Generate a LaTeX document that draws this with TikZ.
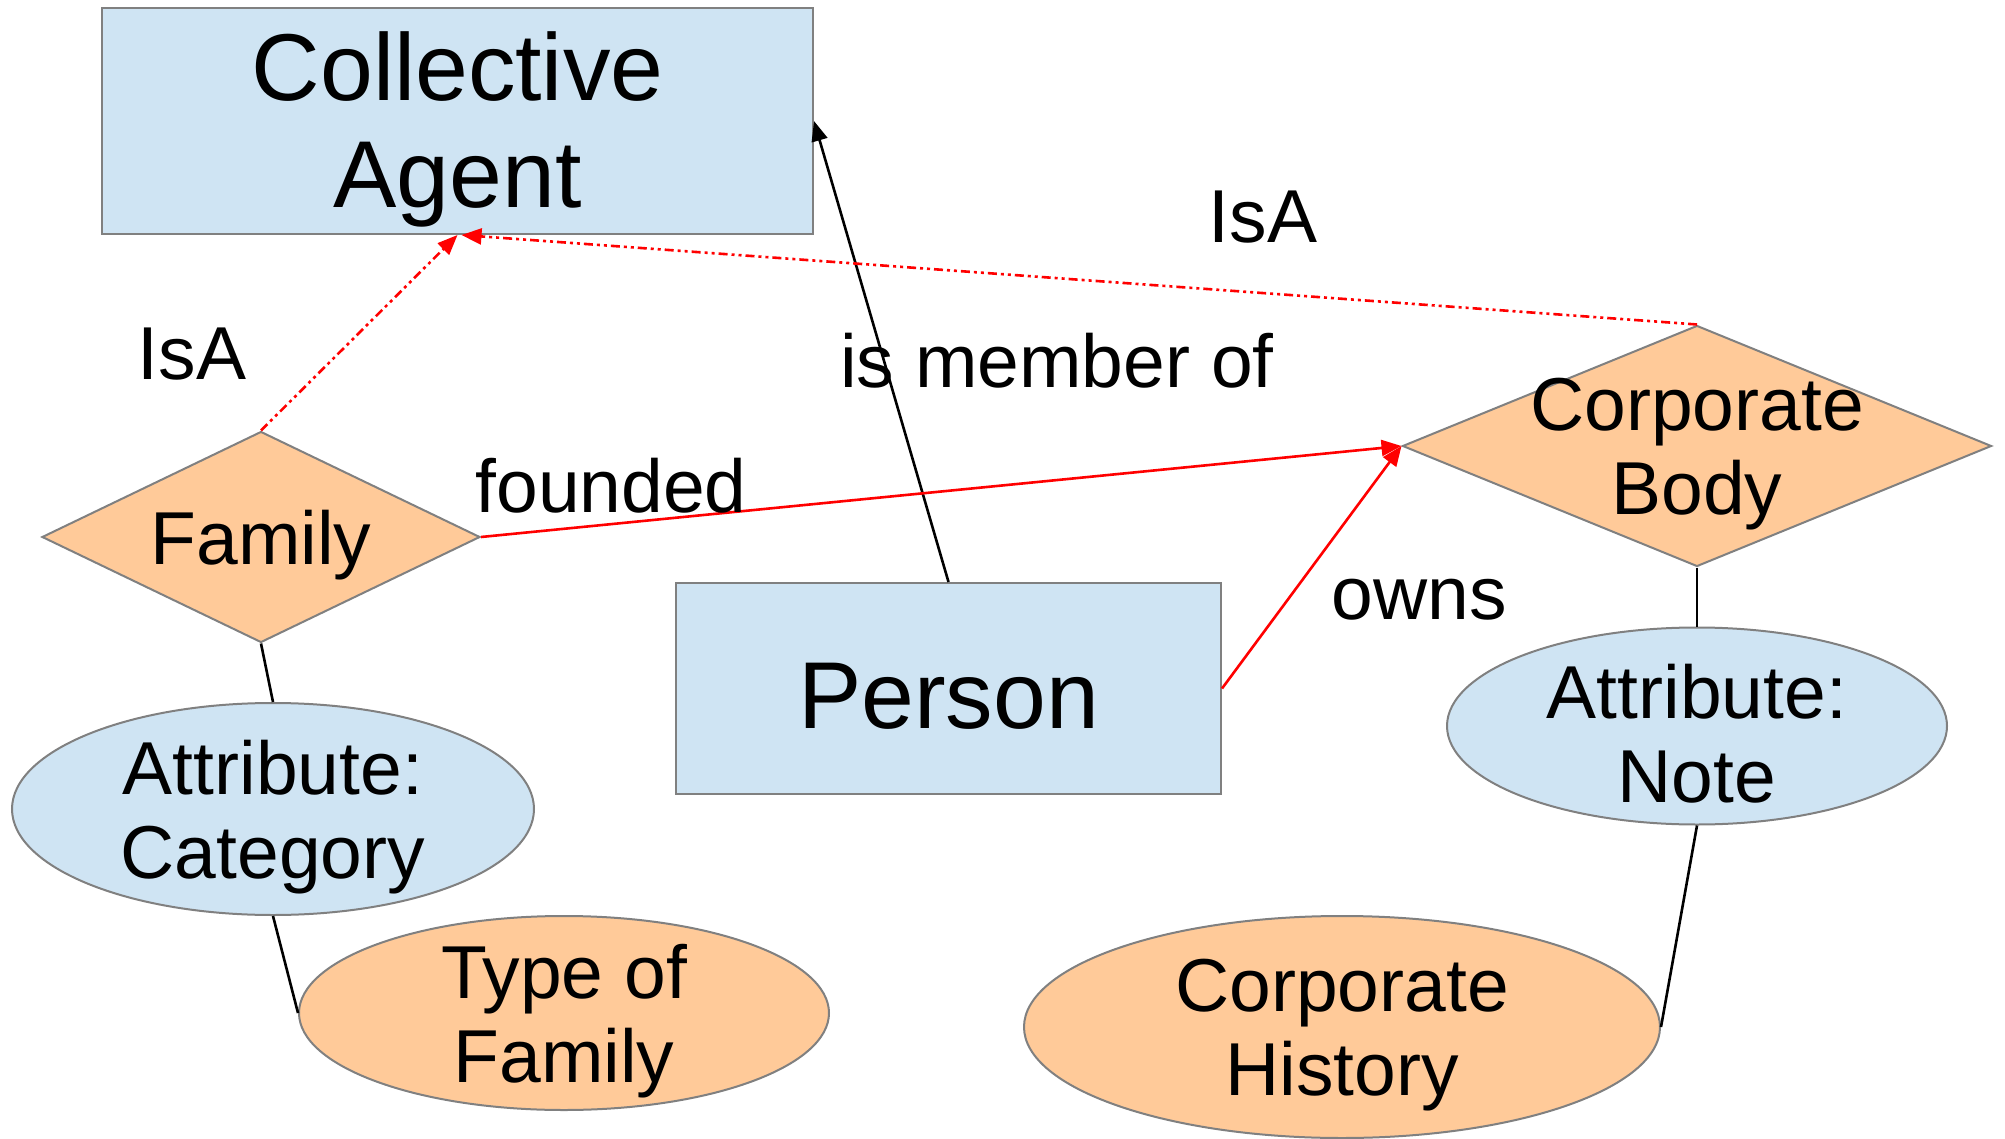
\documentclass[tikz,border=0pt]{standalone}
\usepackage{fontspec}
\setmainfont{Liberation Sans}
\usetikzlibrary{shapes.geometric,arrows.meta}
\definecolor{entblue}{RGB}{207,228,243}
\definecolor{relorange}{RGB}{255,202,153}
\definecolor{edgegray}{RGB}{128,128,128}
\tikzset{
  entity/.style={draw=edgegray,line width=2pt,fill=entblue,inner sep=0pt},
  relation/.style={diamond,draw=edgegray,line width=2pt,fill=relorange,inner sep=0pt},
  attrib/.style={ellipse,draw=edgegray,line width=2pt,fill=entblue,inner sep=0pt},
  valuenode/.style={ellipse,draw=edgegray,line width=2pt,fill=relorange,inner sep=0pt},
  bigtext/.style={align=center,font=\fontsize{95}{107}\selectfont,inner sep=0pt,yshift=-8pt},
  midtext/.style={align=center,font=\fontsize{75}{84}\selectfont,inner sep=0pt,yshift=-8pt},
  lbl/.style={font=\fontsize{75}{86}\selectfont,inner sep=0pt,anchor=base},
  tip/.style={-{Triangle[length=20pt,width=16pt]}},
  link/.style={line width=2.6pt,black},
  redlink/.style={line width=2.6pt,red},
  isalink/.style={line width=2.6pt,red,dash pattern=on 9pt off 4pt on 3pt off 4pt on 3pt off 4pt},
}
\begin{document}
\begin{tikzpicture}[x=1pt,y=-1pt]
\useasboundingbox[fill=white] (0,0) rectangle (2005,1139);

% entities
\node[entity,minimum width=711pt,minimum height=226pt] (ca) at (457.5,121) {};
\node[bigtext] (catext) at (ca.center) {Collective\\Agent};
\node[entity,minimum width=545pt,minimum height=211pt] (person) at (948.5,688.5) {};
\node[bigtext] (persontext) at (person.center) {Person};

% relationship diamonds
\node[relation,minimum width=438pt,minimum height=211pt] (family) at (261,537) {};
\node[midtext] (familytext) at (family.center) {Family};
\node[relation,minimum width=589pt,minimum height=241pt] (cb) at (1697,446) {};
\node[midtext] (cbtext) at (cb.center) {Corporate\\Body};

% attributes and values
\node[attrib,minimum width=522pt,minimum height=212pt] (cat) at (273,809) {};
\node[midtext] (cattext) at (cat.center) {Attribute:\\Category};
\node[valuenode,minimum width=530pt,minimum height=194pt] (tof) at (564,1013) {};
\node[midtext] (toftext) at (tof.center) {Type of\\Family};
\node[attrib,minimum width=500pt,minimum height=197pt] (note) at (1697,726) {};
\node[midtext] (notetext) at (note.center) {Attribute:\\Note};
\node[valuenode,minimum width=636pt,minimum height=222pt] (ch) at (1342,1027) {};
\node[midtext] (chtext) at (ch.center) {Corporate\\History};

% plain links
\draw[link] (family.south) -- (cat.north);
\draw[link] (cat.south) -- (tof.west);
\draw[link] (cb.south) -- (note.north);
\draw[link] (note.south) -- (ch.east);

% arrows
\draw[link,tip] (person.north) -- (ca.east);
\draw[isalink,tip] (family.north) -- (ca.south);
\draw[isalink,tip] (cb.north) -- ([xshift=4pt]ca.south);
\draw[redlink,tip] (family.east) -- (cb.west);
\draw[redlink,tip] (person.east) -- (cb.west);

% labels
\node[lbl] (isa1) at (192,380) {IsA};
\node[lbl] (isa2) at (1263,243) {IsA};
\node[lbl] (member) at (1057,388) {is member of};
\node[lbl] (founded) at (611,512) {founded};
\node[lbl] (owns) at (1419,619) {owns};
\end{tikzpicture}
\end{document}
